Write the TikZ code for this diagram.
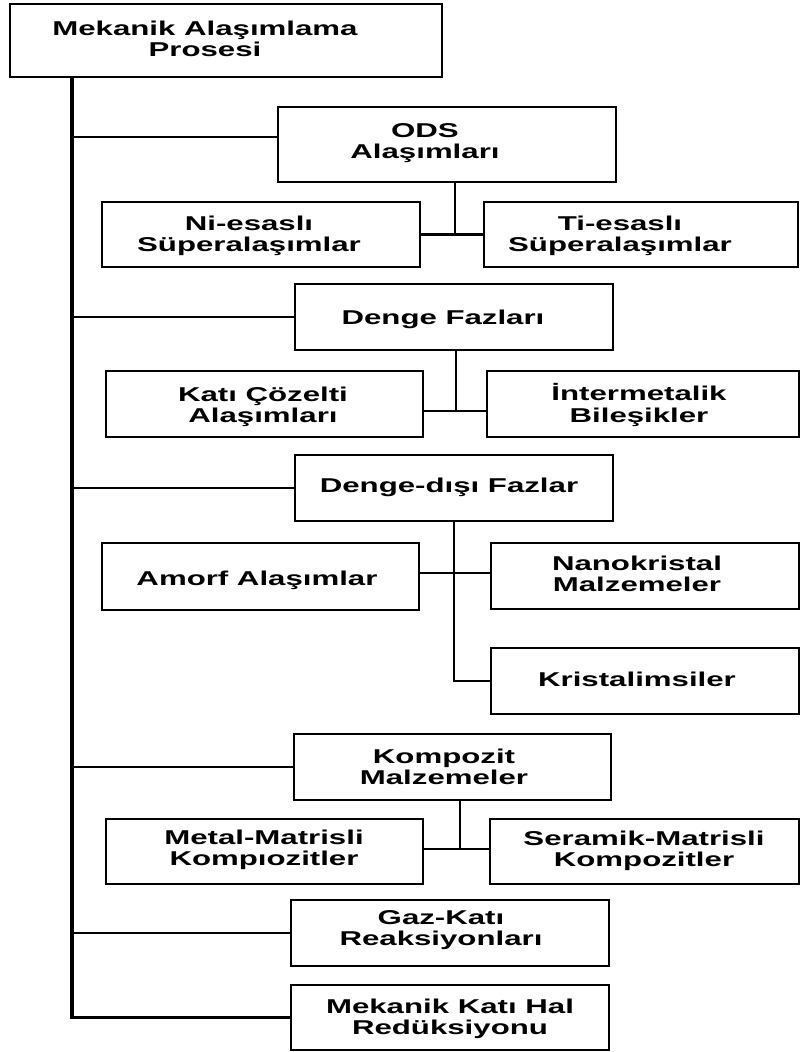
\documentclass[tikz,border=0pt]{standalone}
\usepackage{fontspec}
\newfontfamily\labfont{Liberation Sans}[FakeStretch=1.56]
\begin{document}
\begin{tikzpicture}[x=1pt,y=-1pt,
  box/.style={draw, line width=2.8pt, rectangle, inner sep=0pt},
  lab/.style={font=\labfont\bfseries\fontsize{20}{21.5}\selectfont, align=center, anchor=base, inner sep=0pt},
  link/.style={line width=2.2pt},
  trunkline/.style={line width=3.2pt}]
\useasboundingbox (0,0) rectangle (800,1052);
% boxes
\node[box, minimum width=432pt, minimum height=73pt] (top) at (226,40.5) {};
\node[box, minimum width=338pt, minimum height=75pt] (ods) at (447,144.5) {};
\node[box, minimum width=318pt, minimum height=65pt] (ni) at (261,234.5) {};
\node[box, minimum width=314pt, minimum height=65pt] (ti) at (641,234.5) {};
\node[box, minimum width=318pt, minimum height=66pt] (denge) at (454,317) {};
\node[box, minimum width=317pt, minimum height=66pt] (kati) at (264.5,404) {};
\node[box, minimum width=312pt, minimum height=66pt] (inter) at (643,404) {};
\node[box, minimum width=318pt, minimum height=66pt] (dd) at (454,488) {};
\node[box, minimum width=317pt, minimum height=67pt] (amorf) at (260.5,576.5) {};
\node[box, minimum width=308pt, minimum height=66pt] (nano) at (645,576) {};
\node[box, minimum width=308pt, minimum height=66pt] (krist) at (645,681) {};
\node[box, minimum width=317pt, minimum height=66pt] (komp) at (452.5,767) {};
\node[box, minimum width=317pt, minimum height=65pt] (metal) at (264.5,851.5) {};
\node[box, minimum width=309pt, minimum height=65pt] (seram) at (644.5,851.5) {};
\node[box, minimum width=318pt, minimum height=66pt] (gaz) at (450,933) {};
\node[box, minimum width=318pt, minimum height=65pt] (mkh) at (450,1017.5) {};
% texts (base = baseline of the last line)
\node[lab] (ttop) at (205,56.5) {Mekanik Alaşımlama\\Prosesi};
\node[lab] (tods) at (425,158.5) {ODS\\Alaşımları};
\node[lab] (tni) at (249,251.5) {Ni-esaslı\\Süperalaşımlar};
\node[lab] (tti) at (620,251.5) {Ti-esaslı\\Süperalaşımlar};
\node[lab] (tdenge) at (443,324) {Denge Fazları};
\node[lab] (tkati) at (263,422.5) {Katı Çözelti\\Alaşımları};
\node[lab] (tinter) at (639,422) {İntermetalik\\Bileşikler};
\node[lab] (tdd) at (449,492) {Denge-dışı Fazlar};
\node[lab] (tamorf) at (257,585) {Amorf Alaşımlar};
\node[lab] (tnano) at (637,591.5) {Nanokristal\\Malzemeler};
\node[lab] (tkrist) at (637,686) {Kristalimsiler};
\node[lab] (tkomp) at (444,784.5) {Kompozit\\Malzemeler};
\node[lab] (tmetal) at (264,865.5) {Metal-Matrisli\\Kompıozitler};
\node[lab] (tseram) at (644,866.5) {Seramik-Matrisli\\Kompozitler};
\node[lab] (tgaz) at (441,945.5) {Gaz-Katı\\Reaksiyonları};
\node[lab] (tmkh) at (450,1034.5) {Mekanik Katı Hal\\Redüksiyonu};
% trunk
\coordinate (trunk) at (72,0);
\draw[trunkline] (top.south -| trunk) |- (mkh.west);
\draw[link] ([yshift=7.5pt]ods.west -| trunk) -- ([yshift=7.5pt]ods.west);
\draw[link] (denge.west -| trunk) -- (denge.west);
\draw[link] (dd.west -| trunk) -- (dd.west);
\draw[link] (komp.west -| trunk) -- (komp.west);
\draw[link] (gaz.west -| trunk) -- (gaz.west);
% ODS group
\coordinate (odsj) at (455,234.5);
\draw[link] (ods.south -| odsj) -- (odsj);
\draw[link] (ni.east) -- (ti.west);
% Denge group
\coordinate (dj) at (456,411);
\draw[link] (denge.south -| dj) -- (dj);
\draw[link] (kati.east |- dj) -- (inter.west |- dj);
% Denge-disi group
\coordinate (ddj) at (454,573);
\draw[link] (dd.south -| ddj) |- (krist.west);
\draw[link] (amorf.east |- ddj) -- (nano.west |- ddj);
% Kompozit group
\coordinate (kj) at (460,849);
\draw[link] (komp.south -| kj) -- (kj);
\draw[link] (metal.east |- kj) -- (seram.west |- kj);
\end{tikzpicture}
\end{document}
